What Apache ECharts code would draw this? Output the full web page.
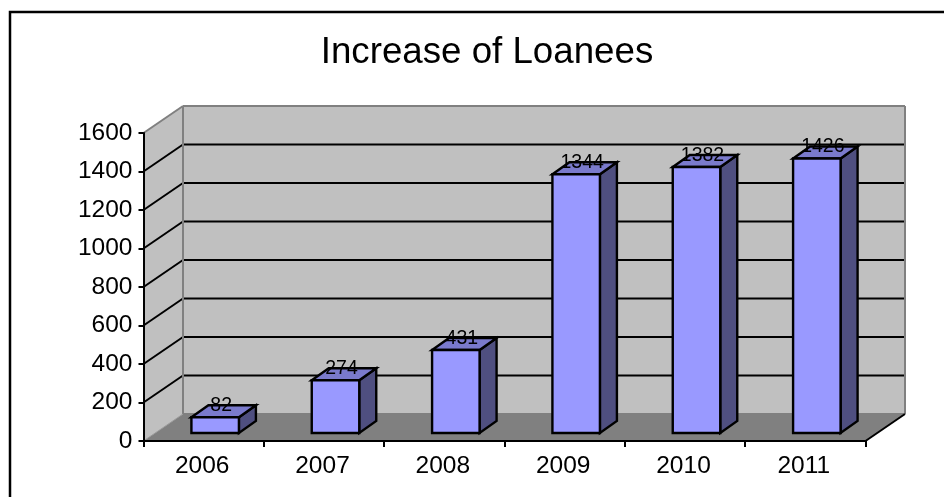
<!DOCTYPE html>
<html>
<head>
<meta charset="utf-8">
<title>Increase of Loanees</title>
<style>
  html, body { margin: 0; padding: 0; background: #fff; overflow: hidden; }
  #chart { width: 944px; height: 497px; }
</style>
<script src="https://cdn.jsdelivr.net/npm/echarts@6/dist/echarts.min.js"></script>
</head>
<body>
<div id="chart"></div>
<script>
const years = ['2006', '2007', '2008', '2009', '2010', '2011'];
const loanees = [82, 274, 431, 1344, 1382, 1426];
const valueTicks = [0, 200, 400, 600, 800, 1000, 1200, 1400, 1600];

// Oblique projection of the chart box, in pixels
const BOX_DX = 39.5, BOX_DY = 27;
// Position of a bar on the floor and its own depth
const BAR_INSET_DX = 11.5, BAR_INSET_DY = 8;
const BAR_DEPTH_DX = 17, BAR_DEPTH_DY = 12;
const BAR_WIDTH = 47.5;

const FONT = '"Liberation Sans", Arial, sans-serif';

function poly(points, fill, stroke, lineWidth) {
  return {
    type: 'polygon',
    shape: { points },
    style: { fill, stroke: stroke || 'none', lineWidth: lineWidth || 0, lineJoin: 'miter' }
  };
}
function line(x1, y1, x2, y2, stroke, lineWidth) {
  return {
    type: 'line',
    shape: { x1, y1, x2, y2 },
    style: { stroke, lineWidth: lineWidth || 2 }
  };
}

// Side wall, back wall and floor with their gridlines
function renderBox(params, api) {
  const cs = params.coordSys;
  const x0 = cs.x, right = cs.x + cs.width;
  const y0 = api.coord([0, 0])[1];
  const yTop = api.coord([0, valueTicks[valueTicks.length - 1]])[1];
  const backLeft = x0 + BOX_DX, backRight = right + BOX_DX;
  const backTop = yTop - BOX_DY, backBottom = y0 - BOX_DY;

  const children = [
    poly([[x0, yTop], [backLeft, backTop], [backLeft, backBottom], [x0, y0]], '#c0c0c0'),
    poly([[backLeft, backTop], [backRight, backTop], [backRight, backBottom], [backLeft, backBottom]], '#c0c0c0'),
    poly([[x0, y0], [backLeft, backBottom], [backRight, backBottom], [right, y0]], '#808080')
  ];
  valueTicks.forEach(function (v, i) {
    if (i === 0 || i === valueTicks.length - 1) return;
    const y = api.coord([0, v])[1];
    children.push(line(x0, y, backLeft, y - BOX_DY, '#000', 2));
    children.push(line(backLeft, y - BOX_DY, backRight, y - BOX_DY, '#000', 2));
  });
  children.push(line(x0, yTop, backLeft, backTop, '#808080', 2));
  children.push(line(backLeft, backTop, backRight, backTop, '#808080', 2));
  children.push(line(backLeft, backTop, backLeft, backBottom, '#808080', 2));
  children.push(line(backRight, backTop, backRight, backBottom, '#808080', 2));
  children.push(line(backLeft, backBottom, backRight, backBottom, '#808080', 2));
  children.push(line(x0, y0, backLeft, backBottom, '#9a9a9a', 1));
  children.push(line(right, y0, backRight, backBottom, '#000', 2));
  return { type: 'group', children };
}

// One prism per year: front, top and right faces
function renderBar(params, api) {
  const idx = api.value(0);
  const base = api.coord([idx, 0]);
  const top = api.coord([idx, api.value(1)]);
  const l = base[0] + BAR_INSET_DX - BAR_WIDTH / 2;
  const r = l + BAR_WIDTH;
  const b = base[1] - BAR_INSET_DY;
  const t = top[1] - BAR_INSET_DY;
  const dx = BAR_DEPTH_DX, dy = BAR_DEPTH_DY;
  const stroke = '#000';
  return {
    type: 'group',
    children: [
      poly([[r, t], [r + dx, t - dy], [r + dx, b - dy], [r, b]], '#4f4f80', stroke, 2.4),
      poly([[l, t], [l + dx, t - dy], [r + dx, t - dy], [r, t]], '#7a7acc', stroke, 2.4),
      poly([[l, t], [r, t], [r, b], [l, b]], '#9999ff', stroke, 2.4),
      {
        type: 'text',
        x: (l + r) / 2 + 6,
        y: t - 11.8,
        z2: 10,
        style: {
          text: String(api.value(1)),
          font: '19.5px ' + FONT,
          fill: '#000',
          align: 'center',
          verticalAlign: 'middle'
        }
      }
    ]
  };
}

const chart = echarts.init(document.getElementById('chart'), null, { renderer: 'canvas' });
chart.setOption({
  animation: false,
  backgroundColor: '#fff',
  title: {
    text: 'Increase of Loanees',
    left: 482,
    top: 29,
    textAlign: 'center',
    textStyle: { color: '#000', fontFamily: FONT, fontSize: 36.7, fontWeight: 'normal' }
  },
  graphic: [{
    type: 'rect',
    z: -10,
    shape: { x: 10, y: 12, width: 1000, height: 600 },
    style: { fill: 'none', stroke: '#000', lineWidth: 2.5 }
  }],
  grid: { left: 143.5, top: 133, width: 722, height: 308 },
  xAxis: {
    type: 'category',
    data: years,
    boundaryGap: true,
    axisLine: { show: true, lineStyle: { color: '#000', width: 2 } },
    axisTick: { show: true, alignWithLabel: false, length: 6, lineStyle: { color: '#000', width: 2 } },
    axisLabel: { color: '#000', fontFamily: FONT, fontSize: 24.5, margin: 13, padding: [0, 3, 0, 0] },
    splitLine: { show: false },
    z: 5
  },
  yAxis: {
    type: 'value',
    min: 0,
    max: 1600,
    interval: 200,
    axisLine: { show: true, lineStyle: { color: '#000', width: 2 } },
    axisTick: { show: true, length: 5, lineStyle: { color: '#000', width: 2 } },
    axisLabel: {
      color: '#000',
      fontFamily: FONT,
      fontSize: 24.5,
      margin: 11,
      formatter: function (v) { return String(v); }
    },
    splitLine: { show: false },
    z: 5
  },
  series: [
    {
      name: 'box',
      type: 'custom',
      coordinateSystem: 'cartesian2d',
      renderItem: renderBox,
      data: [[0, 0]],
      silent: true,
      clip: false,
      z: 1
    },
    {
      name: 'Loanees',
      type: 'custom',
      coordinateSystem: 'cartesian2d',
      renderItem: renderBar,
      encode: { x: 0, y: 1 },
      data: loanees.map(function (v, i) { return [i, v]; }),
      clip: false,
      z: 2
    }
  ]
});
</script>
</body>
</html>
